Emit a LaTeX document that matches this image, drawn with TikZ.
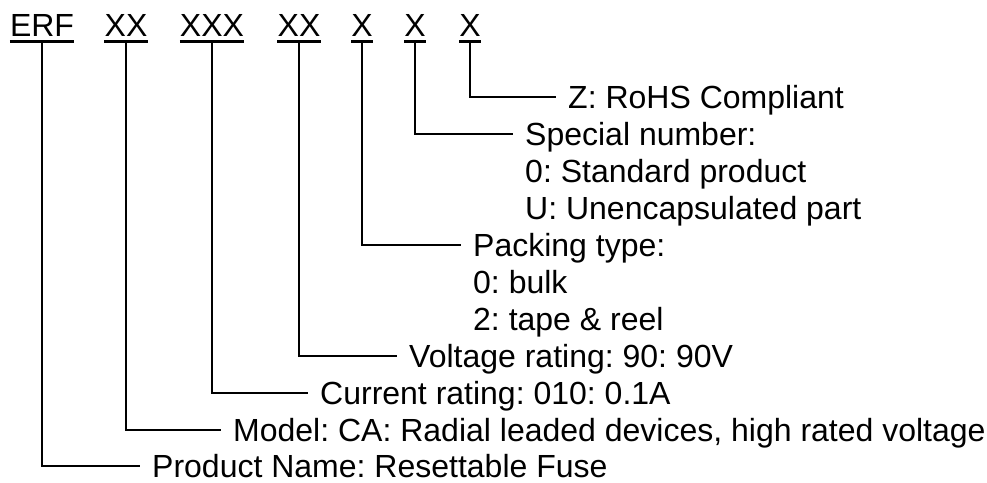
\documentclass[tikz,border=0pt]{standalone}
\usepackage{fontspec}
\setmainfont{Liberation Sans}
\frenchspacing
\begin{document}
\begin{tikzpicture}[x=1pt,y=-1pt,
  code/.style={anchor=base,inner sep=0pt,font=\fontsize{32}{37}\selectfont},
  desc/.style={anchor=west,inner ysep=0pt,inner xsep=12pt,text height=23pt,text depth=0pt,font=\fontsize{32}{37}\selectfont},
  uline/.style={line width=2.6pt},
  conn/.style={line width=2pt}]
\useasboundingbox (0,0) rectangle (987,482);
% top code letters
\node[code] (erf) at (42,36) {ERF};
\node[code] (mdl) at (126,36) {XX};
\node[code] (cur) at (212,36) {XXX};
\node[code] (vol) at (299,36) {XX};
\node[code] (pck) at (362,36) {X};
\node[code] (spc) at (415,36) {X};
\node[code] (rhs) at (470,36) {X};
\foreach \n in {erf,mdl,cur,vol,pck,spc,rhs}
  \draw[uline] ([yshift=-5.5pt]\n.base west) -- ([yshift=-5.5pt]\n.base east);
% descriptions
\node[desc] (trhs) at (556,97) {Z: RoHS Compliant};
\node[desc] (tspc) at (513,134) {Special number:};
\node[desc] (tspc1) at (513,171) {0: Standard product};
\node[desc] (tspc2) at (513,208) {U: Unencapsulated part};
\node[desc] (tpck) at (461,245) {Packing type:};
\node[desc] (tpck1) at (461,282) {0: bulk};
\node[desc] (tpck2) at (461,319) {2: tape \& reel};
\node[desc] (tvol) at (397,356) {Voltage rating: 90: 90V};
\node[desc] (tcur) at (308,393) {Current rating: 010: 0.1A};
\node[desc] (tmdl) at (221,430) {Model: CA: Radial leaded devices, high rated voltage};
\node[desc] (terf) at (140,466) {Product Name: Resettable Fuse};
% connectors
\draw[conn] ([yshift=-5pt]rhs.base) |- (trhs.west);
\draw[conn] ([yshift=-5pt]spc.base) |- (tspc.west);
\draw[conn] ([yshift=-5pt]pck.base) |- (tpck.west);
\draw[conn] ([yshift=-5pt]vol.base) |- (tvol.west);
\draw[conn] ([yshift=-5pt]cur.base) |- (tcur.west);
\draw[conn] ([yshift=-5pt]mdl.base) |- (tmdl.west);
\draw[conn] ([yshift=-5pt]erf.base) |- (terf.west);
\end{tikzpicture}
\end{document}
